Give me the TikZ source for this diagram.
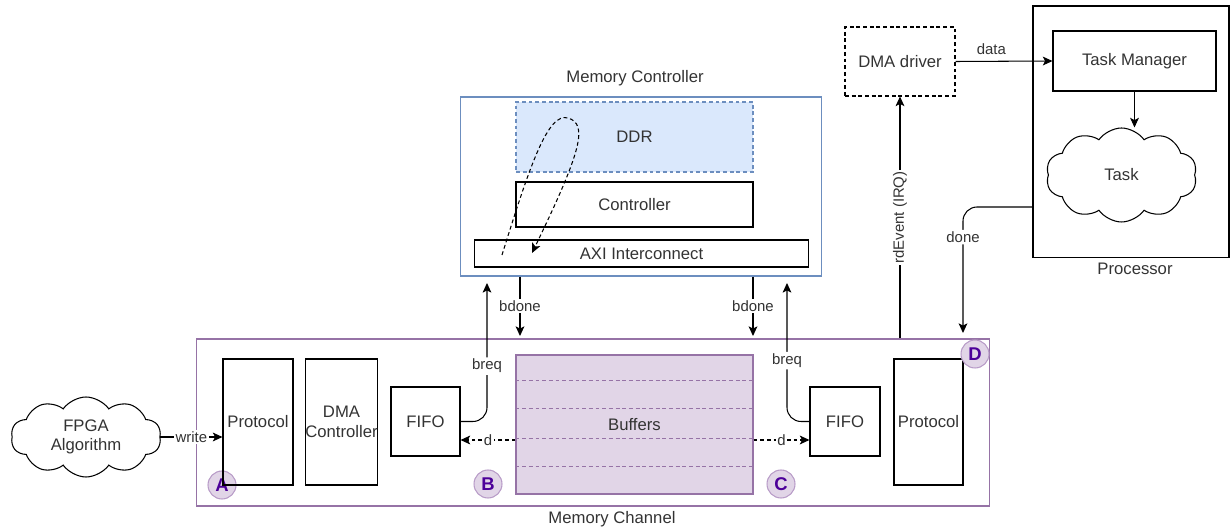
\documentclass[tikz,border=0pt]{standalone}
\usepackage{fontspec}
\setmainfont{Liberation Sans}
\usepackage{xcolor}
\usetikzlibrary{arrows.meta,shapes.symbols,positioning}
\definecolor{mcblue}{HTML}{6C8EBF}
\definecolor{ddrfill}{HTML}{DAE8FC}
\definecolor{chpurple}{HTML}{9673A6}
\definecolor{buffill}{HTML}{E1D5E7}
\definecolor{badgeline}{HTML}{B89CC8}
\definecolor{badgetext}{HTML}{4C0099}
\definecolor{txt}{HTML}{333333}

\begin{document}
\begin{tikzpicture}[x=0.02cm, y=-0.02cm, line width=0.6pt,
    font=\fontsize{9.5}{11}\selectfont, text=txt,
    dashline/.style={dash pattern=on 2.2pt off 1.6pt},
    box/.style={draw=black, inner sep=0pt, align=center},
    dashbox/.style={box, dashline},
    cloudnode/.style={draw=black, cloud, cloud puffs=10, cloud puff arc=110, cloud ignores aspect, inner sep=0pt, align=center},
    lbl/.style={fill=white, inner sep=1pt, font=\fontsize{8.5}{10}\selectfont},
    arr/.style={-{Stealth[length=5.5pt, width=5pt, inset=1.3pt]}},
    badge/.style={circle, draw=badgeline, fill=buffill, minimum size=0.56cm, inner sep=0pt, text=badgetext, font=\fontsize{10.5}{12}\selectfont\bfseries},
    bufline/.style={draw=chpurple, dashline, line width=0.5pt}]
    \useasboundingbox (0,0) rectangle (1232,530);
    % memory controller
    \node[box, draw=mcblue, minimum width=7.24cm, minimum height=3.58cm] (mcbox) at (641,186.5) {};
    \node (mclbl) at (635,78) {Memory Controller};
    \node[dashbox, draw=mcblue, fill=ddrfill, minimum width=4.74cm, minimum height=1.4cm] (ddr) at (634.5,137) {DDR};
    \node[box, minimum width=4.74cm, minimum height=0.9cm] (ctrl) at (634.5,204.5) {Controller};
    \node[box, minimum width=6.7cm, minimum height=0.54cm] (axi) at (641.5,253.5) {AXI Interconnect};
    \draw[arr, dashline] (502,255) .. controls (530,165) and (548,112) .. (568,118) .. controls (588,124) and (582,150) .. (532,253);
    % memory channel
    \node[box, draw=chpurple, minimum width=15.88cm, minimum height=3.34cm] (chbox) at (593,422.5) {};
    \node (chlbl) at (612,519) {Memory Channel};
    \node[badge] (bA) at (222,485) {A};
    \node[box, minimum width=1.4cm, minimum height=2.52cm] (protA) at (258,422) {Protocol};
    \node[box, minimum width=1.38cm, minimum height=2.52cm] (dmac) at (341.5,422) {DMA\\Controller};
    \node[box, minimum width=1.38cm, minimum height=1.38cm] (fifoB) at (425.5,421.5) {FIFO};
    \node[box, draw=chpurple, fill=buffill, minimum width=4.74cm, minimum height=2.78cm] (buf) at (634.5,424.5) {};
    \foreach \y in {380,408,438,466}
        \draw[bufline] (buf.west |- 0,\y) -- (buf.east |- 0,\y);
    \node (buflbl) at (buf.center) {Buffers};
    \node[box, minimum width=1.4cm, minimum height=1.38cm] (fifoC) at (845,421.5) {FIFO};
    \node[box, minimum width=1.38cm, minimum height=2.52cm] (protD) at (928.5,422) {Protocol};
    \node[badge] (bB) at (488,484) {B};
    \node[badge] (bC) at (781,484) {C};
    \node[badge] (bD) at (975,354) {D};
    % host side
    \node[dashbox, minimum width=2.2cm, minimum height=1.38cm] (dmadrv) at (900,61.5) {DMA driver};
    \node[box, minimum width=3.92cm, minimum height=5.04cm] (proc) at (1131,132) {};
    \node (proclbl) at (1135,269) {Processor};
    \node[box, minimum width=3.26cm, minimum height=1.2cm] (taskm) at (1134.5,61) {Task Manager};
    \node[cloudnode, minimum width=3.02cm, minimum height=1.88cm] (task) at (1121.5,175) {Task};
    \node[cloudnode, minimum width=3.0cm, minimum height=1.6cm] (fpga) at (86,437) {FPGA\\Algorithm};
    % connectors
    \coordinate (breqBtop) at (487,283);
    \coordinate (breqCtop) at (787,283);
    \coordinate (bdoneL) at (520,336);
    \coordinate (bdoneR) at (753,336);
    \coordinate (doneEnd) at (963,333);
    \draw[arr] (fpga.east) -- node[lbl]{write} (protA.west |- fpga.east);
    \draw[arr, rounded corners=8] (fifoB.east) -| node[lbl, pos=0.7]{breq} (breqBtop);
    \draw[arr] (mcbox.south -| bdoneL) -- node[lbl]{bdone} (bdoneL);
    \draw[arr, dashline] (buf.west |- 0,440) -- node[lbl]{d} (fifoB.east |- 0,440);
    \draw[arr] (mcbox.south -| bdoneR) -- node[lbl]{bdone} (bdoneR);
    \draw[arr, rounded corners=8] (fifoC.west) -| node[lbl, pos=0.72]{breq} (breqCtop);
    \draw[arr, dashline] (buf.east |- 0,440) -- node[lbl]{d} (fifoC.west |- 0,440);
    \draw[arr] (chbox.north -| dmadrv.south) -- node[lbl, rotate=90]{rdEvent (IRQ)} (dmadrv.south);
    \draw[arr] (dmadrv.east) -- node[above, pos=0.37, font=\fontsize{8.5}{10}\selectfont]{data} (taskm.west);
    \draw[arr] (taskm.south) -- (taskm.south |- task.north);
    \draw[arr, rounded corners=8] (proc.west |- 0,207) -| node[lbl, pos=0.62]{done} (doneEnd);
\end{tikzpicture}
\end{document}
